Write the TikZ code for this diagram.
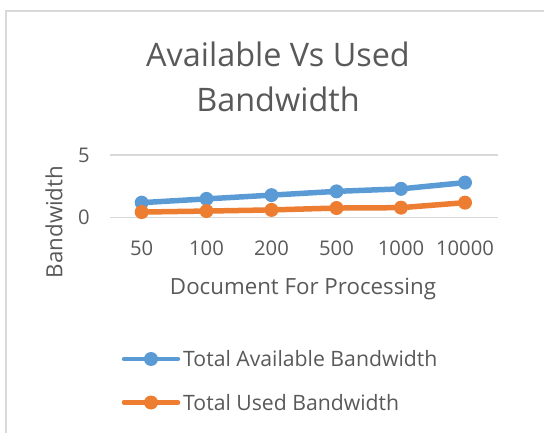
\documentclass[tikz,border=0pt]{standalone}
\usepackage{fontspec}
\setmainfont{Open Sans}
\definecolor{availcol}{HTML}{5B9BD5}
\definecolor{usedcol}{HTML}{ED7D31}
\definecolor{textcol}{HTML}{595959}
\definecolor{gridcol}{HTML}{D9D9D9}
\begin{document}
\begin{tikzpicture}[x=1pt,y=-1pt,
  txt/.style={text=textcol,inner sep=0pt},
  ticklab/.style={txt,font=\fontsize{20.2}{20.2}\selectfont},
  dot/.style={circle,inner sep=0pt,minimum size=14pt},
  availdot/.style={dot,fill=availcol},
  useddot/.style={dot,fill=usedcol},
  availline/.style={availcol,line width=5.5pt,line cap=round,line join=round},
  usedline/.style={usedcol,line width=5.5pt,line cap=round,line join=round},
  gridline/.style={gridcol,line width=1.2pt}]
\useasboundingbox (0,0) rectangle (544,433);
% chart frame
\draw[gridcol,line width=1.6pt] (5.8,433) -- (5.8,10.8) -- (544,10.8);
% title
\node[txt,font=\fontsize{32.4}{45}\selectfont,align=center] (title) at (278,77) {Available Vs Used\\Bandwidth};
% value grid
\coordinate (g5l) at (110,155);   \coordinate (g5r) at (498,155);
\coordinate (g0l) at (110,217.7); \coordinate (g0r) at (498,217.7);
\draw[gridline] (g5l) -- (g5r);
\draw[gridline] (g0l) -- (g0r);
\node[ticklab] (y5) at (84,155) {5};
\node[ticklab] (y0) at (84,217) {0};
% category labels
\foreach \lab/\xx [count=\i] in {50/141.7,100/206.5,200/271.5,500/336.5,1000/401,10000/465}
  \node[ticklab] (c\i) at (\xx,248) {\lab};
% axis titles
\node[txt,font=\fontsize{22.3}{22.3}\selectfont,rotate=90] (ytitle) at (54,222) {Bandwidth};
\node[txt,font=\fontsize{22.3}{22.3}\selectfont] (xtitle) at (303,289) {Document For Processing};
% data points (y = 217.7 - value * 12.54)
\foreach \v/\xx [count=\i] in {1.2/141.7,1.5/206.5,1.8/271.5,2.1/336.5,2.3/401,2.8/465}
  \node[availdot] (a\i) at (\xx,{217.7-\v*12.54}) {};
\foreach \v/\xx [count=\i] in {0.45/141.7,0.53/206.5,0.62/271.5,0.77/336.5,0.8/401,1.2/465}
  \node[useddot] (u\i) at (\xx,{217.7-\v*12.54}) {};
\draw[availline] (a1) -- (a2) -- (a3) -- (a4) -- (a5) -- (a6);
\draw[usedline] (u1) -- (u2) -- (u3) -- (u4) -- (u5) -- (u6);
% legend
\coordinate (la1) at (124,359); \coordinate (la2) at (178,359);
\coordinate (lu1) at (124,402.5); \coordinate (lu2) at (178,402.5);
\draw[availline,line width=4.5pt] (la1) -- (la2);
\draw[usedline,line width=4.5pt] (lu1) -- (lu2);
\node[availdot] (lam) at (151,359) {};
\node[useddot] (lum) at (151,402.5) {};
\node[txt,anchor=west,font=\fontsize{21.2}{21.2}\selectfont] (lat) at (183,359) {Total Available Bandwidth};
\node[txt,anchor=west,font=\fontsize{21.2}{21.2}\selectfont] (lut) at (183,402.5) {Total Used Bandwidth};
\end{tikzpicture}
\end{document}
